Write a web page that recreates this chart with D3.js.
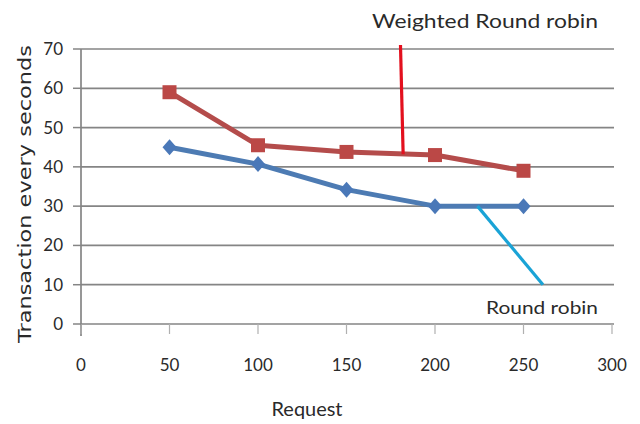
<!DOCTYPE html>
<html><head><meta charset="utf-8">
<script src="https://cdn.jsdelivr.net/npm/d3@7"></script>
<style>html,body{margin:0;padding:0;background:#fff;}svg{display:block;}</style>
</head><body>
<script>
const requests = [50, 100, 150, 200, 250];
const weightedRR = [59, 45.5, 43.8, 43, 39];
const roundRobin = [45, 40.7, 34.2, 30, 30];
const xTicks = [0, 50, 100, 150, 200, 250, 300];
const yTicks = [0, 10, 20, 30, 40, 50, 60, 70];
// annotation pointer lines, in data units
const wrrPointer = [[180.5, 71], [182, 43.2]];
const rrPointer = [[224, 30], [261, 10]];

const W = 640, H = 424;
const svg = d3.select("body").append("svg").attr("width", W).attr("height", H);
const x = d3.scaleLinear().domain([0, 300]).range([81, 612]);
const y = d3.scaleLinear().domain([0, 70]).range([324, 49]);
const font = "Lato, 'Open Sans', sans-serif";

// gridlines
svg.append("g").selectAll("line").data(yTicks).join("line")
  .attr("x1", x(0)).attr("x2", 614).attr("y1", d => y(d)).attr("y2", d => y(d))
  .attr("stroke", "#858585").attr("stroke-width", 1.7);
// y axis line
svg.append("line").attr("x1", x(0)).attr("x2", x(0)).attr("y1", y(70)).attr("y2", 336)
  .attr("stroke", "#858585").attr("stroke-width", 1.7);
// x ticks
svg.append("g").selectAll("line").data(xTicks).join("line")
  .attr("x1", d => x(d)).attr("x2", d => x(d)).attr("y1", y(0)).attr("y2", 334)
  .attr("stroke", "#b0b0b0").attr("stroke-width", 1.2);
// y tick marks
svg.append("g").selectAll("line").data(yTicks).join("line")
  .attr("x1", 73).attr("x2", x(0)).attr("y1", d => y(d)).attr("y2", d => y(d))
  .attr("stroke", "#858585").attr("stroke-width", 1.5);

// y tick labels
svg.append("g").selectAll("text").data(yTicks).join("text")
  .attr("x", 63).attr("y", d => y(d)).attr("dy", "0.35em").attr("text-anchor", "end")
  .attr("font-family", font).attr("font-size", 17).attr("fill", "#2a2a2a")
  .text(d => d);
// x tick labels
svg.append("g").selectAll("text").data(xTicks).join("text")
  .attr("x", d => x(d)).attr("y", 371).attr("text-anchor", "middle")
  .attr("font-family", font).attr("font-size", 17).attr("fill", "#2a2a2a")
  .text(d => d);

// axis titles
svg.append("text").attr("x", 307).attr("y", 416).attr("text-anchor", "middle")
  .attr("font-family", font).attr("font-size", 19).attr("fill", "#2a2a2a")
  .attr("textLength", 71).attr("lengthAdjust", "spacingAndGlyphs").text("Request");
svg.append("text").attr("transform", "translate(31,194) rotate(-90)").attr("text-anchor", "middle")
  .attr("font-family", "'DejaVu Sans', sans-serif").attr("font-size", 18).attr("fill", "#2a2a2a")
  .attr("textLength", 298).attr("lengthAdjust", "spacingAndGlyphs")
  .text("Transaction every seconds");

const line = d3.line().x(d => x(d[0])).y(d => y(d[1]));
const wrrData = requests.map((r, i) => [r, weightedRR[i]]);
const rrData = requests.map((r, i) => [r, roundRobin[i]]);

svg.append("path").datum(wrrData).attr("d", line).attr("fill", "none")
  .attr("stroke", "#b44c4b").attr("stroke-width", 5).attr("stroke-linejoin", "round");
svg.append("g").selectAll("rect").data(wrrData).join("rect")
  .attr("x", d => x(d[0]) - 7).attr("y", d => y(d[1]) - 7).attr("width", 14).attr("height", 14)
  .attr("fill", "#bb4846");

svg.append("path").datum(rrData).attr("d", line).attr("fill", "none")
  .attr("stroke", "#4d7bb3").attr("stroke-width", 5).attr("stroke-linejoin", "round");
svg.append("g").selectAll("path.d").data(rrData).join("path")
  .attr("transform", d => `translate(${x(d[0])},${y(d[1])})`)
  .attr("d", "M0,-8L7,0L0,8L-7,0Z").attr("fill", "#4a78b8");

// annotation pointers
svg.append("path").datum(wrrPointer).attr("d", line).attr("fill", "none")
  .attr("stroke", "#e3101e").attr("stroke-width", 3.2);
svg.append("path").datum(rrPointer).attr("d", line).attr("fill", "none")
  .attr("stroke", "#1aa3d6").attr("stroke-width", 3.2);

svg.append("text").attr("x", 372).attr("y", 28)
  .attr("font-family", font).attr("font-size", 19).attr("fill", "#2a2a2a")
  .attr("textLength", 226).attr("lengthAdjust", "spacingAndGlyphs")
  .text("Weighted Round robin");
svg.append("text").attr("x", 486).attr("y", 314)
  .attr("font-family", font).attr("font-size", 18).attr("fill", "#2a2a2a")
  .attr("textLength", 112).attr("lengthAdjust", "spacingAndGlyphs")
  .text("Round robin");
</script>
</body></html>
